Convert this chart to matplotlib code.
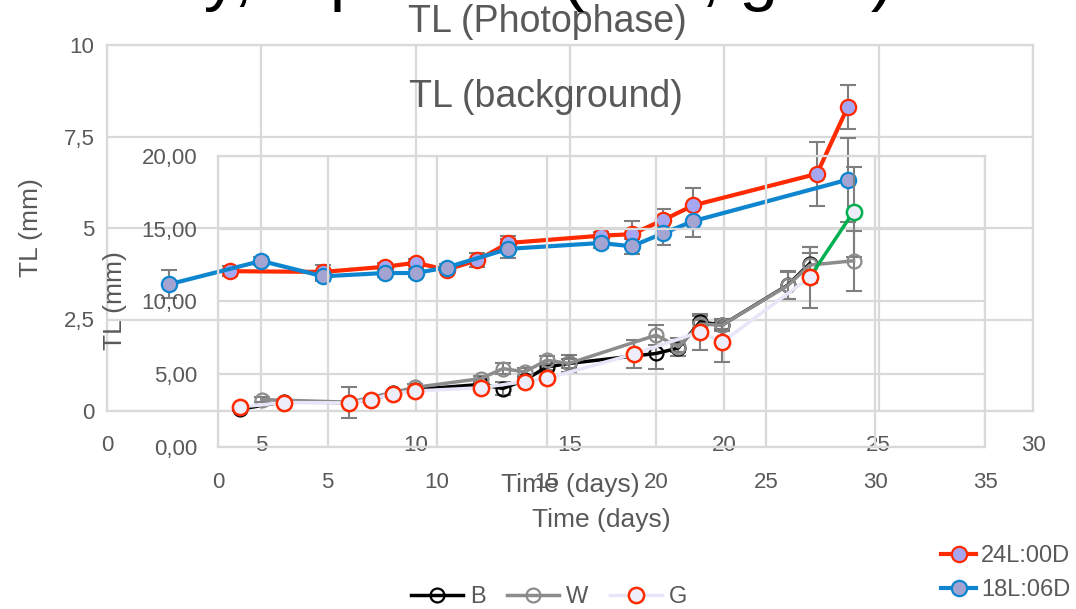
import matplotlib
matplotlib.use("Agg")
import matplotlib.pyplot as plt
from matplotlib.lines import Line2D

plt.rcParams['font.family'] = ['Liberation Sans', 'DejaVu Sans']

# ---- photophase chart (0..10 mm) ----
red_days = [4, 7, 9, 10, 11, 12, 13, 16, 17, 18, 19, 23, 24]
red_tl = [3.82, 3.80, 3.94, 4.05, 3.86, 4.12, 4.59, 4.79, 4.83, 5.21, 5.62, 6.48, 8.31]
red_err = [0.13, 0.2, 0.1, 0.1, 0.05, 0.19, 0.2, 0.1, 0.36, 0.3, 0.48, 0.88, 0.6]

blue_days = [2, 5, 7, 9, 10, 11, 13, 16, 17, 18, 19, 24]
blue_tl = [3.46, 4.10, 3.68, 3.77, 3.77, 3.92, 4.43, 4.59, 4.50, 4.85, 5.19, 6.32]
blue_err = [0.38, 0.1, 0.12, 0.1, 0.1, 0.1, 0.26, 0.15, 0.2, 0.32, 0.44, 1.15]

# ---- background chart (0..20 mm) ----
b_days = [1, 3, 6, 7, 8, 9, 12, 13, 14, 15, 16, 20, 21, 22, 23, 26, 27]
b_tl = [2.6, 3.1, 3.05, 3.25, 3.7, 3.95, 4.3, 4.02, 4.6, 5.5, 5.74, 6.43, 6.8,
        8.6, 8.38, 11.13, 12.6]
b_err = [0.1, 0.1, 0.1, 0.1, 0.1, 0.1, 0.2, 0.46, 0.2, 0.2, 0.3, 1.1, 0.3,
         0.4, 0.4, 0.96, 0.7]

w_days = [2, 6, 9, 12, 13, 14, 15, 16, 20, 21, 22, 23, 26, 27, 29]
w_tl = [3.26, 3.08, 4.1, 4.7, 5.39, 5.16, 5.97, 5.74, 7.69, 6.88, 8.45, 8.38,
        11.1, 12.5, 12.8]
w_err = [0.2, 0.1, 0.2, 0.2, 0.35, 0.3, 0.3, 0.57, 0.7, 0.63, 0.3, 0.3,
         0.96, 1.26, 2.06]

g_days = [1, 3, 6, 7, 8, 9, 12, 14, 15, 19, 22, 23, 27, 29]
g_tl = [2.75, 3.05, 3.03, 3.26, 3.67, 3.85, 4.07, 4.5, 4.71, 6.4, 7.92, 7.2,
        11.66, 16.17]
g_err = [0.1, 0.1, 1.07, 0.1, 0.1, 0.1, 0.1, 0.1, 0.1, 0.97, 1.25, 1.33,
         2.1, 3.1]

ax1_xticks = [0, 5, 10, 15, 20, 25, 30]
ax1_yticks = [0, 2.5, 5, 7.5, 10]
ax1_ylabels = ["0", "2,5", "5", "7,5", "10"]
ax2_xticks = [0, 5, 10, 15, 20, 25, 30, 35]
ax2_yticks = [0, 5, 10, 15, 20]
ax2_ylabels = ["0,00", "5,00", "10,00", "15,00", "20,00"]

TXT = '#595959'
GRID = '#D9D9D9'
ERR = '#7F7F7F'
RED = '#FF2A00'
BLUE = '#0E86CF'

W_PX, H_PX = 1076, 609
fig = plt.figure(figsize=(W_PX / 100, H_PX / 100), dpi=100)


def px_axes(left, top, right, bottom):
    return fig.add_axes([left / W_PX, 1 - bottom / H_PX,
                         (right - left) / W_PX, (bottom - top) / H_PX])


def style(ax, xt, yt, ylab, xpad, ypad):
    ax.set_facecolor('none')
    ax.set_xticks(xt)
    ax.set_xticklabels([str(v) for v in xt])
    ax.set_yticks(yt)
    ax.set_yticklabels(ylab)
    ax.tick_params(length=0, labelsize=16, labelcolor=TXT)
    ax.tick_params(axis='x', pad=xpad)
    ax.tick_params(axis='y', pad=ypad)
    ax.grid(True, color=GRID, lw=1.6)
    ax.set_axisbelow(True)
    for s in ax.spines.values():
        s.set_color(GRID)
        s.set_linewidth(1.6)


# photophase chart
ax1 = px_axes(107, 45, 1033, 411)
style(ax1, ax1_xticks, ax1_yticks, ax1_ylabels, 17, 9)
ax1.set_xlim(0, 30)
ax1.set_ylim(0, 10)

ax1.errorbar(red_days, red_tl, yerr=red_err, fmt='none', ecolor=ERR,
             elinewidth=1.5, capsize=6, capthick=1.5, zorder=2)
ax1.errorbar(blue_days, blue_tl, yerr=blue_err, fmt='none', ecolor=ERR,
             elinewidth=1.5, capsize=6, capthick=1.5, zorder=2)
ax1.plot(red_days, red_tl, '-o', color=RED, lw=3, ms=11, mfc='#A6A6F2',
         mec=RED, mew=1.6, zorder=3)
ax1.plot(blue_days, blue_tl, '-o', color=BLUE, lw=3, ms=11, mfc='#A4A4D2',
         mec=BLUE, mew=1.6, zorder=3)

ax1.text(0.476, 1.063, "TL (Photophase)", transform=ax1.transAxes,
         ha='center', va='center', fontsize=27, color=TXT)
ax1.set_xlabel("Time (days)", fontsize=19, color=TXT)
ax1.xaxis.label.set_va('center')
ax1.xaxis.set_label_coords(0.5, -0.202)
ax1.set_ylabel("TL (mm)", fontsize=19, color=TXT)
ax1.yaxis.label.set_va('center')
ax1.yaxis.set_label_coords(-0.082, 0.5)

# background chart
ax2 = px_axes(218, 156, 985, 447)
style(ax2, ax2_xticks, ax2_yticks, ax2_ylabels, 18, 15)
ax2.set_xlim(0, 35)
ax2.set_ylim(0, 20)

for d, v, e in [(b_days, b_tl, b_err), (w_days, w_tl, w_err), (g_days, g_tl, g_err)]:
    ax2.errorbar(d, v, yerr=e, fmt='none', ecolor=ERR, elinewidth=1.5,
                 capsize=6, capthick=1.5, zorder=2)
ax2.plot(b_days, b_tl, '-o', color='black', lw=2.5, ms=10, mfc='none',
         mec='black', mew=1.6, zorder=3)
ax2.plot(w_days, w_tl, '-o', color='#8C8C8C', lw=2.5, ms=10, mfc='none',
         mec='#8C8C8C', mew=1.6, zorder=3)
ax2.plot(g_days[:-1], g_tl[:-1], '-o', color='#E6E6F8', lw=2.5, ms=11,
         mfc='#EEEEFB', mec=RED, mew=1.8, zorder=4)
# last segment of G is formatted green
ax2.plot(g_days[-2:], g_tl[-2:], '-', color='#00B050', lw=2.5, zorder=3.5)
ax2.plot(g_days[-1:], g_tl[-1:], 'o', ms=11, mfc='#EEEEFB', mec='#00B050',
         mew=1.8, zorder=4)

ax2.text(0.428, 1.203, "TL (background)", transform=ax2.transAxes,
         ha='center', va='center', fontsize=27, color=TXT)
ax2.set_xlabel("Time (days)", fontsize=19, color=TXT)
ax2.xaxis.label.set_va('center')
ax2.xaxis.set_label_coords(0.5, -0.251)
ax2.set_ylabel("TL (mm)", fontsize=19, color=TXT)
ax2.yaxis.label.set_va('center')
ax2.yaxis.set_label_coords(-0.134, 0.502)

# legends
h_bwg = [
    Line2D([], [], color='black', lw=2.5, marker='o', ms=10, mfc='none', mec='black', mew=1.6),
    Line2D([], [], color='#8C8C8C', lw=2.5, marker='o', ms=10, mfc='none', mec='#8C8C8C', mew=1.6),
    Line2D([], [], color='#E6E6F8', lw=2.5, marker='o', ms=11, mfc='#EEEEFB', mec=RED, mew=1.8),
]
fig.legend(h_bwg, ["B", "W", "G"], loc='center', ncol=3,
           bbox_to_anchor=(549 / W_PX, 1 - 597 / H_PX), frameon=False,
           fontsize=17, labelcolor=TXT, handlelength=2.2, handletextpad=0.3,
           columnspacing=0.9, borderpad=0)

h_ph = [
    Line2D([], [], color=RED, lw=3, marker='o', ms=11, mfc='#A6A6F2', mec=RED, mew=1.6),
    Line2D([], [], color=BLUE, lw=3, marker='o', ms=11, mfc='#A4A4D2', mec=BLUE, mew=1.6),
]
fig.legend(h_ph, ["24L:00D", "18L:06D"], loc='center left',
           bbox_to_anchor=(929 / W_PX, 1 - 573 / H_PX), frameon=False,
           fontsize=17, labelcolor=TXT, handlelength=1.5, handletextpad=0.2,
           labelspacing=0.5, borderpad=0)

# chart title of a third chart, cut off by the top edge (only descenders show)
fig.text(84 / W_PX, 1 - 12 / H_PX, "Daily, top rates (mm, gms)", fontsize=50,
         color='black', ha='left', va='bottom')

fig.savefig("out.png", dpi=100)
